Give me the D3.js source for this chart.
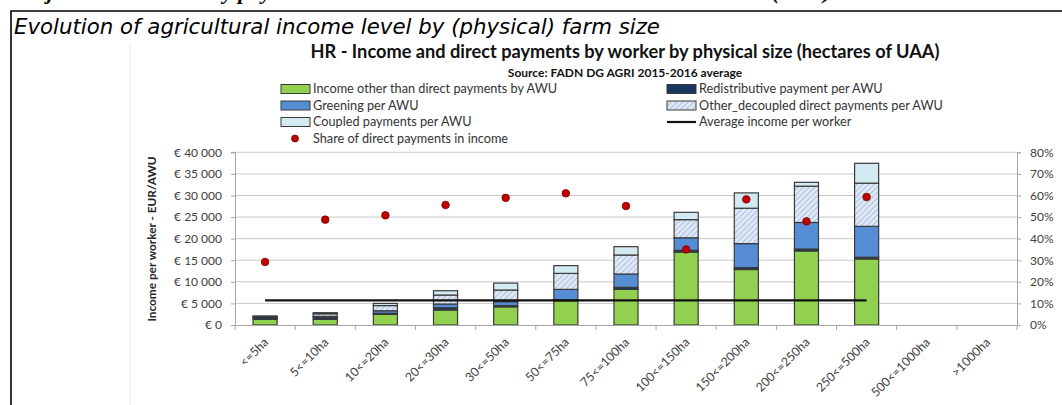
<!DOCTYPE html>
<html>
<head>
<meta charset="utf-8">
<script src="https://cdn.jsdelivr.net/npm/d3@7"></script>
<style>
  body { margin: 0; background: #fff; }
  svg { display: block; font-family: Lato, "Open Sans", sans-serif; }
</style>
</head>
<body>
<svg id="chart" width="1062" height="405"></svg>
<script>
// categories (farm size classes)
const categories = ["<=5ha", "5<=10ha", "10<=20ha", "20<=30ha", "30<=50ha", "50<=75ha",
  "75<=100ha", "100<=150ha", "150<=200ha", "200<=250ha", "250<=500ha", "500<=1000ha", ">1000ha"];

// EUR per AWU
const incomeOther    = [1300, 1300, 2450, 3470, 4200, 5600, 8260, 16900, 12850, 17150, 15300, null, null];
const redistributive = [450, 450, 250, 540, 300, 250, 460, 400, 450, 450, 400, null, null];
const greening       = [100, 250, 600, 850, 900, 2400, 3090, 2900, 5550, 6150, 7150, null, null];
const otherDecoupled = [150, 600, 1200, 2080, 2700, 3700, 4400, 4200, 8200, 8400, 10000, null, null];
const coupled        = [80, 250, 500, 1000, 1600, 1800, 1930, 1700, 3550, 900, 4600, null, null];
const avgIncome      = [5700, 5700, 5700, 5700, 5700, 5700, 5700, 5700, 5700, 5700, 5700, null, null];
// share of direct payments in income (%)
const shareDP        = [29.2, 48.8, 50.8, 55.6, 58.9, 61.0, 55.1, 35.0, 58.2, 48.0, 59.3, null, null];

const leftTicks = [0, 5000, 10000, 15000, 20000, 25000, 30000, 35000, 40000];
const rightTicks = [0, 10, 20, 30, 40, 50, 60, 70, 80];

const keys = ["incomeOther", "redistributive", "greening", "otherDecoupled", "coupled"];
const labels = {
  incomeOther: "Income other than direct payments by AWU",
  redistributive: "Redistributive payment per AWU",
  greening: "Greening per AWU",
  otherDecoupled: "Other_decoupled direct payments per AWU",
  coupled: "Coupled payments per AWU"
};
const fills = {
  incomeOther: "#92d050",
  redistributive: "#17375e",
  greening: "#558ed5",
  otherDecoupled: "url(#hatch)",
  coupled: "#d4eaf3"
};

const rows = categories.map((c, i) => ({
  category: c,
  incomeOther: incomeOther[i] || 0,
  redistributive: redistributive[i] || 0,
  greening: greening[i] || 0,
  otherDecoupled: otherDecoupled[i] || 0,
  coupled: coupled[i] || 0
}));

const svg = d3.select("#chart");

// hatch for the decoupled payments
const defs = svg.append("defs");
const pat = defs.append("pattern")
  .attr("id", "hatch")
  .attr("patternUnits", "userSpaceOnUse")
  .attr("width", 4).attr("height", 4)
  .attr("patternTransform", "rotate(45)");
pat.append("rect").attr("width", 4).attr("height", 4).attr("fill", "#dfe8f4");
pat.append("line").attr("x1", 0).attr("y1", 0).attr("x2", 0).attr("y2", 4)
  .attr("stroke", "#9db8dd").attr("stroke-width", 1.6);

// page frame and cut-off text above it (the reference shows only its descenders)
svg.append("text")
  .attr("y", -1)
  .attr("font-family", "Liberation Serif, serif")
  .attr("font-style", "italic").attr("font-weight", "bold")
  .attr("font-size", 22).attr("fill", "#000")
  .selectAll("tspan")
  .data([{ x: 20, t: "Objective" }, { x: 212, t: "by physical" }, { x: 772, t: "(2016)" }])
  .join("tspan")
  .attr("x", d => d.x)
  .text(d => d.t);

svg.append("path")
  .attr("d", "M11,405V11H1062")
  .attr("fill", "none").attr("stroke", "#000").attr("stroke-width", 1.6);

svg.append("line")
  .attr("x1", 130).attr("x2", 130).attr("y1", 43).attr("y2", 405)
  .attr("stroke", "#ececec");

svg.append("text")
  .attr("x", 14).attr("y", 34)
  .attr("font-family", "DejaVu Sans, sans-serif")
  .attr("font-style", "italic")
  .attr("font-size", 21.3)
  .text("Evolution of agricultural income level by (physical) farm size");

// chart titles
svg.append("text")
  .attr("x", 625).attr("y", 58)
  .attr("text-anchor", "middle")
  .attr("font-weight", "bold").attr("font-size", 18.2).attr("fill", "#111")
  .text("HR - Income and direct payments by worker by physical size (hectares of UAA)");

svg.append("text")
  .attr("x", 625).attr("y", 77)
  .attr("text-anchor", "middle")
  .attr("font-weight", "bold").attr("font-size", 12).attr("fill", "#111")
  .text("Source: FADN DG AGRI 2015-2016 average");

// scales
const x = d3.scaleBand()
  .domain(categories)
  .range([235, 1017])
  .paddingInner(0.6)
  .paddingOuter(0.3);

const y = d3.scaleLinear().domain([0, 40000]).range([325, 152.3]);
const y2 = d3.scaleLinear().domain([0, 80]).range([325, 152.3]);

const euro = d => "€ " + d3.format(",")(d).replace(/,/g, " ");

// gridlines
svg.append("g")
  .selectAll("line")
  .data(leftTicks.slice(1))
  .join("line")
  .attr("x1", 235).attr("x2", 1017)
  .attr("y1", d => y(d)).attr("y2", d => y(d))
  .attr("stroke", "#c8c8c8").attr("stroke-width", 1);

// left axis
const yAxisG = svg.append("g")
  .attr("transform", "translate(235,0)")
  .call(d3.axisLeft(y).tickValues(leftTicks).tickFormat(euro).tickSize(4).tickPadding(9));
yAxisG.select(".domain").attr("stroke", "#a6a6a6");
yAxisG.selectAll(".tick line").attr("stroke", "#a6a6a6");
yAxisG.selectAll("text").attr("font-size", 12).attr("fill", "#404040").attr("font-family", "Lato, sans-serif");

// right axis
const y2AxisG = svg.append("g")
  .attr("transform", "translate(1017,0)")
  .call(d3.axisRight(y2).tickValues(rightTicks).tickFormat(d => d + "%").tickSize(4).tickPadding(9));
y2AxisG.select(".domain").attr("stroke", "#a6a6a6");
y2AxisG.selectAll(".tick line").attr("stroke", "#a6a6a6");
y2AxisG.selectAll("text").attr("font-size", 12).attr("fill", "#404040").attr("font-family", "Lato, sans-serif");

// y axis title
svg.append("text")
  .attr("transform", "translate(156,239) rotate(-90)")
  .attr("text-anchor", "middle")
  .attr("font-weight", "bold").attr("font-size", 11.8).attr("fill", "#262626")
  .text("Income per worker - EUR/AWU");

// stacked bars
const stacked = d3.stack().keys(keys)(rows);

svg.append("g")
  .selectAll("g")
  .data(stacked)
  .join("g")
  .attr("fill", d => fills[d.key])
  .selectAll("rect")
  .data(d => d.filter(s => s[1] > s[0]))
  .join("rect")
  .attr("x", d => x(d.data.category))
  .attr("y", d => y(d[1]))
  .attr("width", x.bandwidth())
  .attr("height", d => y(d[0]) - y(d[1]))
  .attr("stroke", "#3a3a3a")
  .attr("stroke-width", 1.2);

// x axis
const xAxisG = svg.append("g")
  .attr("transform", "translate(0,325)")
  .call(d3.axisBottom(x).tickSize(0).tickPadding(0));
xAxisG.select(".domain").attr("stroke", "#a6a6a6");
xAxisG.selectAll("text")
  .attr("y", 0).attr("dy", "0.35em")
  .attr("text-anchor", "end")
  .attr("transform", "translate(1,15) rotate(-45)")
  .attr("font-size", 12.3).attr("fill", "#404040").attr("font-family", "Lato, sans-serif");

const bounds = categories.map(c => x(c) - x.step() * x.paddingInner() / 2).concat([1017]);
bounds[0] = 235;
xAxisG.selectAll(".bound")
  .data(bounds)
  .join("line")
  .attr("class", "bound")
  .attr("x1", d => d).attr("x2", d => d)
  .attr("y1", 0).attr("y2", 5)
  .attr("stroke", "#a6a6a6");

// average income line
const cx = c => x(c) + x.bandwidth() / 2;
const avgLine = d3.line()
  .defined((d, i) => avgIncome[i] != null)
  .x((d, i) => cx(categories[i]))
  .y((d, i) => y(avgIncome[i]));
svg.append("path")
  .datum(categories)
  .attr("d", avgLine)
  .attr("fill", "none").attr("stroke", "#111").attr("stroke-width", 2.2);

// share dots
svg.append("g")
  .selectAll("circle")
  .data(categories.map((c, i) => ({ c, v: shareDP[i] })).filter(d => d.v != null))
  .join("circle")
  .attr("cx", d => cx(d.c))
  .attr("cy", d => y2(d.v))
  .attr("r", 3.8)
  .attr("fill", "#c00000")
  .attr("stroke", "#7a0000").attr("stroke-width", 0.8);

// legend
const legendItems = [
  { key: "incomeOther", col: 0, row: 0 },
  { key: "redistributive", col: 1, row: 0 },
  { key: "greening", col: 0, row: 1 },
  { key: "otherDecoupled", col: 1, row: 1 },
  { key: "coupled", col: 0, row: 2 },
  { key: "avg", col: 1, row: 2 },
  { key: "share", col: 0, row: 3 }
];
const legendX = [281, 667];
const legendY = [89, 105.5, 122, 138.5];

const leg = svg.append("g")
  .selectAll("g")
  .data(legendItems)
  .join("g")
  .attr("transform", d => `translate(${legendX[d.col]},${legendY[d.row]})`);

leg.filter(d => keys.includes(d.key))
  .append("rect")
  .attr("x", 0).attr("y", -4.5).attr("width", 29).attr("height", 9)
  .attr("fill", d => fills[d.key])
  .attr("stroke", "#3a3a3a").attr("stroke-width", 1);

leg.filter(d => d.key === "avg")
  .append("line")
  .attr("x1", 0).attr("x2", 29).attr("y1", 0).attr("y2", 0)
  .attr("stroke", "#111").attr("stroke-width", 2.2);

leg.filter(d => d.key === "share")
  .append("circle")
  .attr("cx", 14).attr("cy", 0).attr("r", 3.5)
  .attr("fill", "#c00000").attr("stroke", "#7a0000").attr("stroke-width", 0.8);

leg.append("text")
  .attr("x", 32).attr("dy", "0.35em")
  .attr("font-size", 12.7).attr("fill", "#333")
  .text(d => d.key === "avg" ? "Average income per worker"
    : d.key === "share" ? "Share of direct payments in income" : labels[d.key]);
</script>
</body>
</html>
